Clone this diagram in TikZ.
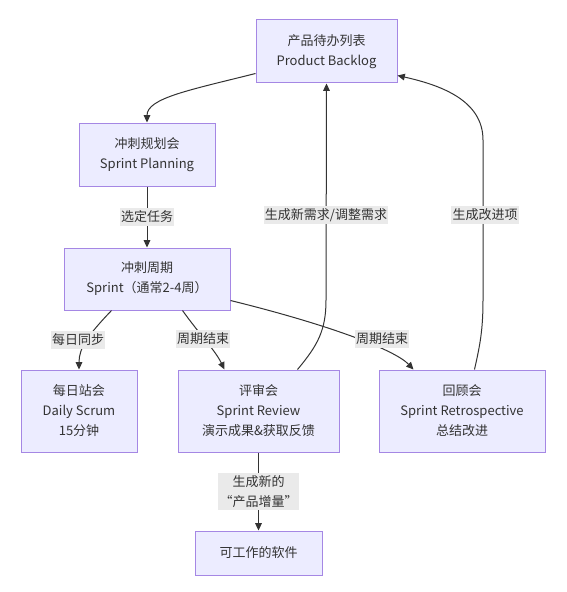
\documentclass[tikz,border=0pt]{standalone}
\usepackage{fontspec}
\setmainfont{Noto Sans CJK SC}
\usepackage{tikz}
\usetikzlibrary{arrows.meta,calc}
\definecolor{mmfill}{RGB}{236,236,255}
\definecolor{mmborder}{RGB}{165,135,228}
\definecolor{mmtext}{RGB}{51,51,51}
\definecolor{mmline}{RGB}{51,51,51}
\definecolor{mmlabel}{RGB}{234,234,234}
\tikzset{
  base/.style={font=\fontsize{9.75pt}{15pt}\selectfont, align=center, text=mmtext},
  box/.style={base, rectangle, draw=mmborder, fill=mmfill, line width=0.75pt, inner sep=0pt},
  lbl/.style={base, fill=mmlabel, inner xsep=1pt, inner ysep=2pt},
  arr/.style={-{Triangle[length=5.5pt,width=5pt]}, line width=0.75pt, draw=mmline},
}
\begin{document}
\begin{tikzpicture}[x=0.75pt,y=-0.75pt]
  \useasboundingbox (0,0) rectangle (567,592);
  \node[box,minimum width=105.75pt,minimum height=47.25pt] (backlog) at (326.5,51.5) {产品待办列表\\Product Backlog};
  \node[box,minimum width=102pt,minimum height=47.25pt] (planning) at (147,154.5) {冲刺规划会\\Sprint Planning};
  \node[box,minimum width=124.5pt,minimum height=46.5pt] (sprint) at (147,279) {冲刺周期\\Sprint（通常2-4周）};
  \node[box,minimum width=87pt,minimum height=61.5pt] (daily) at (79,411) {每日站会\\Daily Scrum\\15分钟};
  \node[box,minimum width=120.75pt,minimum height=61.5pt] (review) at (258.5,411) {评审会\\Sprint Review\\演示成果\&获取反馈};
  \node[box,minimum width=124.5pt,minimum height=61.5pt] (retro) at (462,411) {回顾会\\Sprint Retrospective\\总结改进};
  \node[box,minimum width=95.25pt,minimum height=33pt] (software) at (258.5,553) {可工作的软件};

  \draw[arr] ($(backlog.south west)+(0,-10)$) .. controls (190,90) and (147,98) .. (planning.north);
  \draw[arr] (planning.south) -- (sprint.north) node[midway,lbl]{选定任务};
  \draw[arr] ($(sprint.south west)+(48,0)$) .. controls (88,335) and (79,348) .. (daily.north);
  \draw[arr] ($(sprint.south east)+(-48,0)$) .. controls (200,335) and (215,350) .. ($(review.north west)+(47,0)$);
  \draw[arr] ($(sprint.south east)+(0,-10)$) .. controls (330,325) and (395,350) .. ($(retro.north west)+(35,0)$);
  \draw[arr] ($(review.north west)+(120,0)$) .. controls (318,345) and (326,330) .. (326,300) -- (backlog.south);
  \draw[arr] ($(retro.north west)+(96,0)$) .. controls (480,345) and (483,330) .. (483,300) -- (483,140)
    .. controls (483,100) and (440,85) .. ($(backlog.south east)+(0,-8)$);
  \draw[arr] (review.south) -- (software.north) node[midway,lbl]{生成新的\\“产品增量”};

  \node[lbl] (lbldaily) at (78,340) {每日同步};
  \node[lbl] (lblend) at (203,339) {周期结束};
  \node[lbl] (lblendb) at (382,339) {周期结束};
  \node[lbl] (lblnew) at (326,215) {生成新需求/调整需求};
  \node[lbl] (lblimprove) at (485,215) {生成改进项};
\end{tikzpicture}
\end{document}
